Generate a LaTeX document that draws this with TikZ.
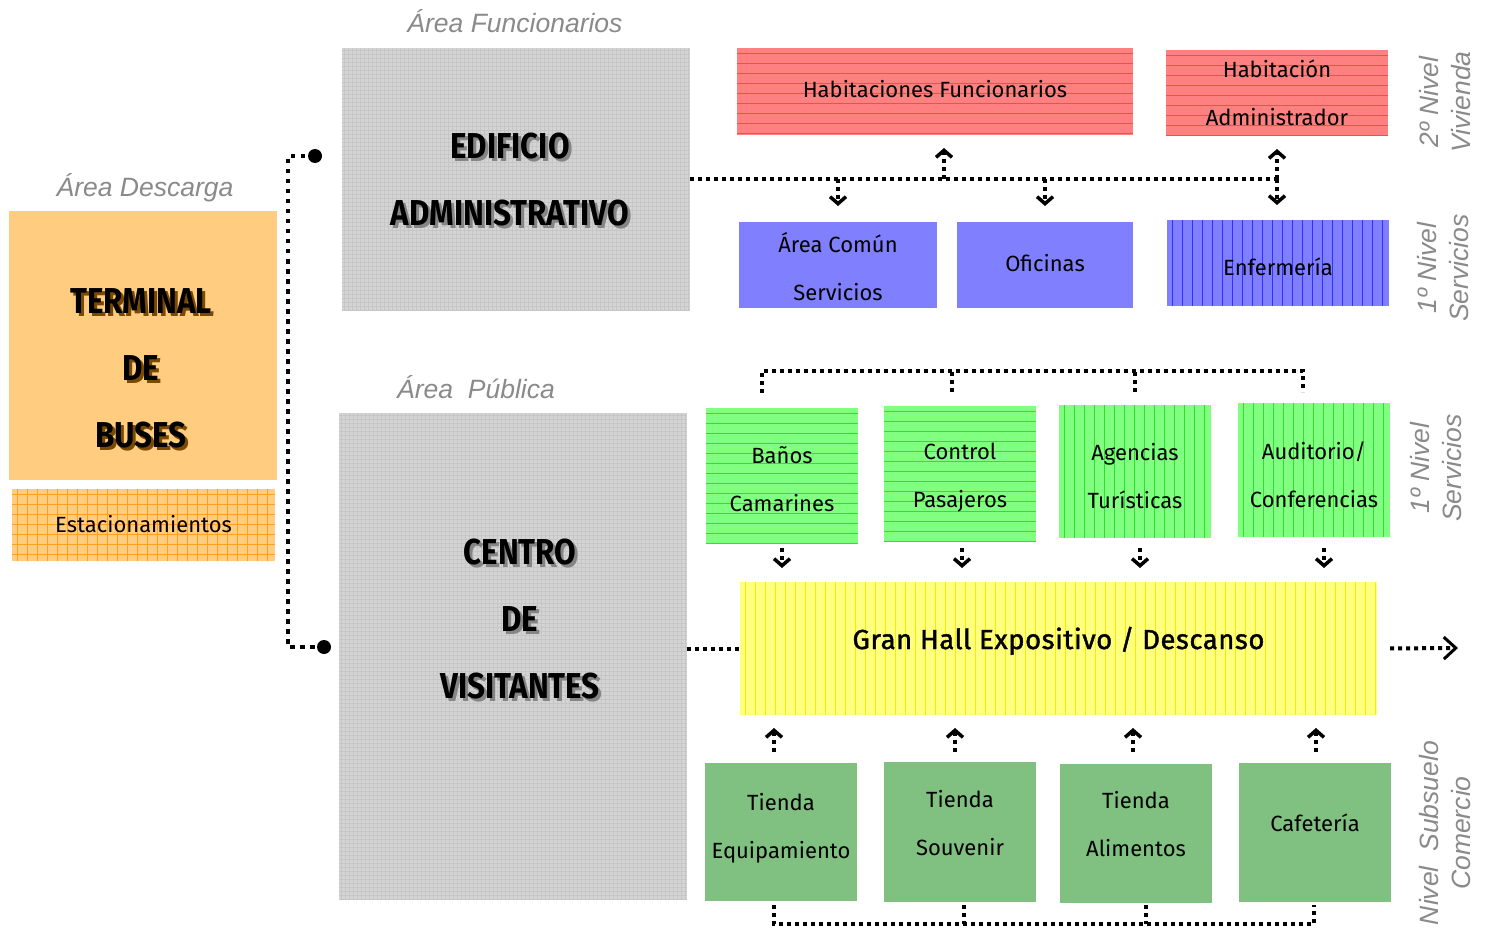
\documentclass[tikz,border=0pt]{standalone}
\usepackage{fontspec}
\usetikzlibrary{arrows.meta,calc}
\newfontfamily\boxfont{Fira Sans}
\newfontfamily\hallfont[LetterSpace=2,FakeBold=1.5]{Fira Sans}
\newfontfamily\titlefont[FakeStretch=0.87]{Fira Sans}
\newfontfamily\lblfont{Liberation Sans}
\newcommand\shtxt[2]{\makebox[0pt][l]{\hspace*{3pt}\raisebox{-3pt}{\textcolor{#1}{#2}}}#2}
\definecolor{termfill}{HTML}{FFCC80}
\definecolor{estline}{HTML}{FFA020}
\definecolor{grayfill}{HTML}{D4D4D4}
\definecolor{grayline}{HTML}{C6C6C6}
\definecolor{redfill}{HTML}{FF8080}
\definecolor{redline}{HTML}{FF4848}
\definecolor{bluefill}{HTML}{8080FF}
\definecolor{blueline}{HTML}{3030FF}
\definecolor{lgreen}{HTML}{80FF80}
\definecolor{lgreenline}{HTML}{30E030}
\definecolor{yfill}{HTML}{FFFF80}
\definecolor{yline}{HTML}{F0F000}
\definecolor{dgreen}{HTML}{80C080}
\definecolor{lblgray}{HTML}{8A8A8A}
\definecolor{shbrown}{HTML}{7A4A00}
\definecolor{shgray}{HTML}{858585}
\tikzset{
  box/.style={inner sep=0pt, outer sep=0pt, anchor=north west, align=center,
    font=\boxfont\fontsize{22}{48}\selectfont, text=black},
  wh/.style 2 args={minimum width=#1pt, minimum height=#2pt},
  tb/.style 2 args={text height=#1pt, text depth=#2pt},
  hatchh/.style n args={3}{path picture={\foreach \k in {0,...,130}{\draw[#1, line width=#3pt]
     ([yshift=-\k*#2pt-#2pt/2]path picture bounding box.north west) --
     ([yshift=-\k*#2pt-#2pt/2]path picture bounding box.north east);}}},
  hatchv/.style n args={3}{path picture={\foreach \k in {0,...,130}{\draw[#1, line width=#3pt]
     ([xshift=\k*#2pt+#2pt/2]path picture bounding box.north west) --
     ([xshift=\k*#2pt+#2pt/2]path picture bounding box.south west);}}},
  hatchg/.style n args={3}{path picture={\foreach \k in {0,...,130}{\draw[#1, line width=#3pt]
     ([yshift=-\k*#2pt-#2pt/2]path picture bounding box.north west) --
     ([yshift=-\k*#2pt-#2pt/2]path picture bounding box.north east);
     \draw[#1, line width=#3pt]
     ([xshift=\k*#2pt+#2pt/2]path picture bounding box.north west) --
     ([xshift=\k*#2pt+#2pt/2]path picture bounding box.south west);}}},
  title/.style={inner sep=0pt, align=center, font=\titlefont\bfseries\fontsize{36}{67}\selectfont},
  lbl/.style={inner sep=0pt, align=center, text=lblgray, font=\lblfont\itshape\fontsize{26.5}{32}\selectfont},
  dotline/.style={line width=4pt, dash pattern=on 4pt off 4pt},
  dotarrow/.style={dotline, -{Straight Barb[length=7pt,width=16pt,line width=3.5pt]}},
}
\begin{document}
\begin{tikzpicture}[x=1pt,y=-1pt]
\useasboundingbox (0,0) rectangle (1486,928);
\fill[white] (0,0) rectangle (1486,928);

% left area
\node[box, wh={268}{269}, fill=termfill] (term) at (9,211) {};
\node[box, wh={263}{72}, tb={14}{0}, fill=termfill, hatchg={estline}{10}{0.7}] (est) at (12,489) {Estacionamientos};
\node[title] (termt) at (141,370) {\shtxt{shbrown}{TERMINAL}\\\shtxt{shbrown}{DE}\\\shtxt{shbrown}{BUSES}};

% gray buildings
\node[box, wh={348}{262}, fill=grayfill, hatchg={grayline}{4}{0.5}] (admin) at (342,48) {};
\node[box, wh={348}{486}, fill=grayfill, hatchg={grayline}{4}{0.5}] (centro) at (339,413) {};
\node[title] (admint) at (510,181) {\shtxt{shgray}{EDIFICIO}\\\shtxt{shgray}{ADMINISTRATIVO}};
\node[title] (centrot) at (520,621) {\shtxt{shgray}{CENTRO}\\\shtxt{shgray}{DE}\\\shtxt{shgray}{VISITANTES}};

% second level
\node[box, wh={396}{87}, tb={13}{0}, fill=redfill, hatchh={redline}{10}{0.7}] (habf) at (737,48) {Habitaciones Funcionarios};
\node[box, wh={222}{86}, tb={66}{0}, fill=redfill, hatchh={redline}{10}{0.7}] (haba) at (1166,50) {Habitación\\Administrador};
% first level admin
\node[box, wh={198}{86}, tb={70}{0}, fill=bluefill] (acs) at (739,222) {Área Común\\Servicios};
\node[box, wh={176}{86}, tb={12}{0}, fill=bluefill] (ofi) at (957,222) {Oficinas};
\node[box, wh={222}{86}, tb={24}{0}, fill=bluefill, hatchv={blueline}{10}{0.8}] (enf) at (1167,220) {Enfermería};

% first level public
\node[box, wh={152}{135}, tb={71}{0}, fill=lgreen, hatchh={lgreenline}{10}{0.7}] (banos) at (706,408) {Baños\\Camarines};
\node[box, wh={152}{135}, tb={67}{0}, fill=lgreen, hatchh={lgreenline}{10}{0.7}] (control) at (884,406) {Control\\Pasajeros};
\node[box, wh={152}{133}, tb={73}{0}, fill=lgreen, hatchv={lgreenline}{10}{0.7}] (agencias) at (1059,405) {Agencias\\Turísticas};
\node[box, wh={152}{134}, tb={74}{0}, fill=lgreen, hatchv={lgreenline}{10}{0.7}] (audit) at (1238,403) {Auditorio/\\Conferencias};

\node[box, wh={637}{133}, tb={1}{0}, fill=yfill, hatchv={yline}{10}{0.8},
  font=\hallfont\fontsize{27.5}{30}\selectfont] (hall) at (740,582) {Gran Hall Expositivo / Descanso};

% basement
\node[box, wh={152}{138}, tb={52}{0}, fill=dgreen] (teq) at (705,763) {Tienda\\Equipamiento};
\node[box, wh={152}{140}, tb={46}{0}, fill=dgreen] (tsou) at (884,762) {Tienda\\Souvenir};
\node[box, wh={152}{139}, tb={45}{0}, fill=dgreen] (tali) at (1060,764) {Tienda\\Alimentos};
\node[box, wh={152}{139}, tb={0}{3}, fill=dgreen] (cafe) at (1239,763) {Cafetería};

% labels
\node[lbl] (lfunc) at (515,21) {Área Funcionarios};
\node[lbl] (ldesc) at (145,188) {Área Descarga};
\node[lbl] (lpub) at (476,387) {Área~~Pública};
\node[lbl, rotate=90] (lviv) at (1445,102) {2º Nivel\\Vivienda};
\node[lbl, rotate=90] (lserv1) at (1443,268) {1º Nivel\\Servicios};
\node[lbl, rotate=90] (lserv2) at (1436,468) {1º Nivel\\Servicios};
\node[lbl, rotate=90] (lcom) at (1445,833) {Nivel~~Subsuelo\\Comercio};

% left connector
\coordinate (d1) at (315,156);
\coordinate (d2) at (324,647);
\coordinate (lc1) at (288,156);
\coordinate (lc2) at (288,647);
\draw[line width=4.5pt, dash pattern=on 4.5pt off 5.5pt] (d1) -- (lc1) -- (lc2) -- (d2);
\fill (d1) circle[radius=7pt];
\fill (d2) circle[radius=7pt];

% admin connector
\coordinate (tr) at (haba.south |- admin.east);
\draw[dotline] (admin.east) -- (tr);
\draw[dotarrow, shorten >=16pt] (acs.north |- admin.east) -- (acs.north);
\draw[dotarrow, shorten >=16pt] (ofi.north |- admin.east) -- (ofi.north);
\coordinate (hu) at ([xshift=9pt]habf.south);
\draw[dotarrow, shorten >=13pt] (hu |- admin.east) -- (hu);
\draw[dotarrow, shorten >=13pt] (tr) -- (haba.south);
\draw[dotarrow, shorten >=15pt] (tr) -- (tr |- enf.north);

% upper green connector
\draw[dotline] ([shift={(-20,-15)}]banos.north) -- ++(0,-22) -| ([shift={(-11,-11)}]audit.north);
\draw[dotline] ([shift={(-8,-14)}]control.north) -- ++(0,-21);
\draw[dotline] ([shift={(0,-13)}]agencias.north) -- ++(0,-21);

% green to hall
\draw[dotarrow] ([shift={(0,5)}]banos.south) -- ++(0,20);
\draw[dotarrow] ([shift={(2,7)}]control.south) -- ++(0,20);
\draw[dotarrow] ([shift={(5,10)}]agencias.south) -- ++(0,20);
\draw[dotarrow] ([shift={(10,11)}]audit.south) -- ++(0,20);

% basement to hall
\draw[dotarrow] ([shift={(-7,-11)}]teq.north) -- ++(0,-24);
\draw[dotarrow] ([shift={(-5,-10)}]tsou.north) -- ++(0,-24);
\draw[dotarrow] ([shift={(-3,-12)}]tali.north) -- ++(0,-24);
\draw[dotarrow] ([shift={(1,-11)}]cafe.north) -- ++(0,-24);

% bottom connector
\draw[dotline] ([shift={(-7,4)}]teq.south) -- ++(0,19) -| ([shift={(-1,3)}]cafe.south);
\draw[dotline] ([shift={(4,3)}]tsou.south) -- ++(0,19);
\draw[dotline] ([shift={(10,2)}]tali.south) -- ++(0,19);

% hall connectors
\draw[dotline] (centro.east |- hall.west) -- (hall.west);
\coordinate (out) at (1458,648);
\draw[dotline, shorten <=13pt, -{Straight Barb[length=12pt,width=22pt,line width=3pt]}] (hall.east) -- (out);
\end{tikzpicture}
\end{document}
